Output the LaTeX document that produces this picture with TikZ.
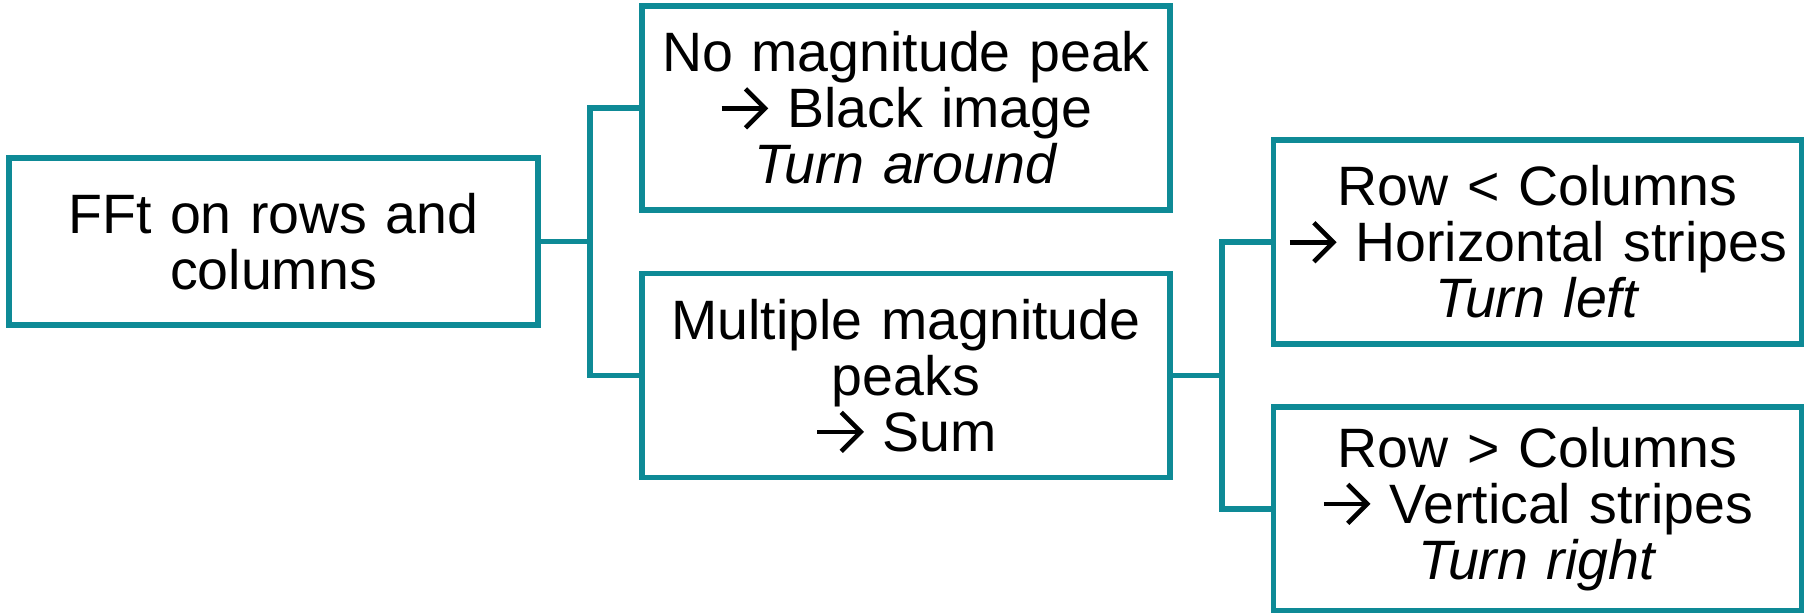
\documentclass[tikz,border=0pt]{standalone}
\usepackage{fontspec}
\setmainfont{Liberation Sans}
\definecolor{tealline}{RGB}{14,138,150}
% open-headed arrow drawn in line with the text
\newcommand{\chevarrow}{\tikz[baseline=0pt,x=1pt,y=1pt,line width=4.6pt,line cap=butt,line join=miter]{%
  \useasboundingbox (-2,0) rectangle (47,40);
  \draw (0,19.5) -- (42,19.5);
  \draw (24,39) -- (43.5,19.5) -- (24,0);}}
\tikzset{
  box/.style={draw=tealline, line width=5.6pt, rectangle, outer sep=0pt, inner sep=0pt,
    minimum width=528pt, minimum height=204pt, align=center, text width=520pt,
    font=\fontsize{55.5}{56}\selectfont},
  conn/.style={draw=tealline, line width=5.6pt, line join=miter}
}
\begin{document}
\begin{tikzpicture}[x=1pt,y=-1pt]
\useasboundingbox (0,0) rectangle (1808,613);
% decision boxes
\node[box, minimum width=529pt, minimum height=167pt] (fft) at (273.5,241.5) {FFt on rows and\\columns};
\node[box] (none) at (906,108) {No magnitude peak\\\chevarrow{} Black image\\\textit{Turn around}};
\node[box] (multi) at (906,375.5) {Multiple magnitude\\peaks\\\chevarrow{} Sum};
\node[box] (less) at (1537.5,242) {Row < Columns\\\chevarrow{} Horizontal stripes\\\textit{Turn left}};
\node[box] (more) at (1537.5,509) {Row > Columns\\\chevarrow{} Vertical stripes\\\textit{Turn right}};
% branch points
\coordinate (j1) at (590,241.5);
\coordinate (j2) at (1222,375.5);
% first split
\draw[conn] (fft.east) -- (j1);
\draw[conn] (none.west) -- (none.west -| j1) -- (multi.west -| j1) -- (multi.west);
% second split
\draw[conn] (multi.east) -- (j2);
\draw[conn] (less.west) -- (less.west -| j2) -- (more.west -| j2) -- (more.west);
\end{tikzpicture}
\end{document}
